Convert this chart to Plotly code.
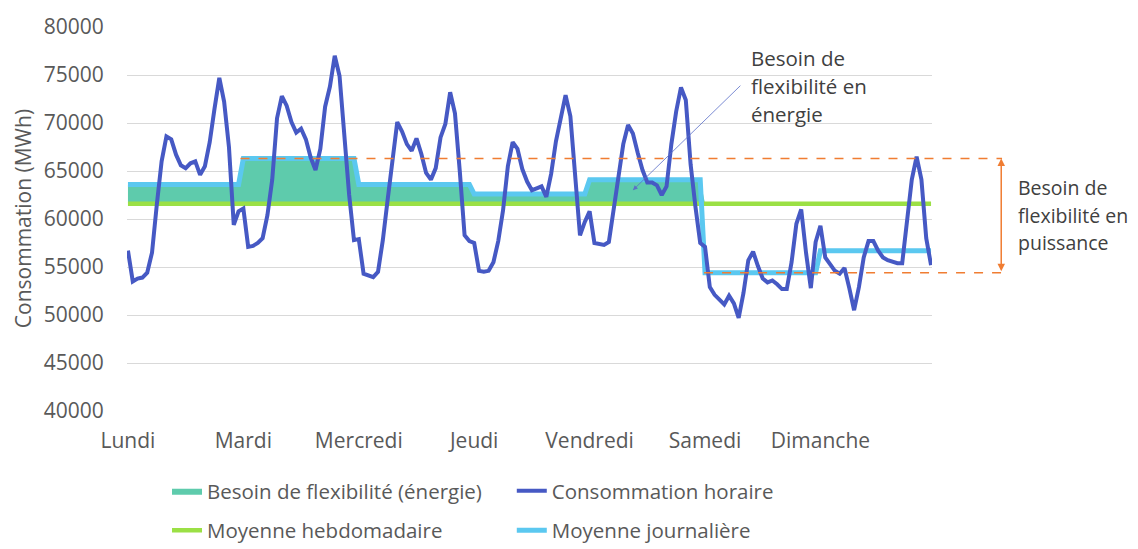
import plotly.graph_objects as go

# ---------------- data ----------------
days = ["Lundi", "Mardi", "Mercredi", "Jeudi", "Vendredi", "Samedi", "Dimanche"]

conso_lundi = [56700, 53500, 53800, 53900, 54400, 56500, 61500, 66000, 68600, 68300, 66700, 65600,
               65300, 65800, 66000, 64600, 65500, 68000, 71500, 74700, 72200, 67500, 59400, 60800]
conso_mardi = [61100, 57100, 57200, 57500, 58000, 60400, 64100, 70500, 72800, 71800, 70100, 69000,
               69400, 68300, 66400, 65100, 67300, 71700, 73800, 77000, 74900, 68900, 62500, 57800]
conso_mercredi = [57900, 54300, 54100, 53950, 54500, 57800, 62000, 66000, 70100, 69100, 67800, 67100,
                  68400, 66800, 64800, 64100, 65300, 68500, 69900, 73200, 71000, 65000, 58300, 57700]
conso_jeudi = [57500, 54600, 54500, 54600, 55500, 57700, 60900, 65500, 68000, 67300, 65200, 63900,
               63000, 63200, 63400, 62300, 64700, 68100, 70500, 72900, 70700, 64300, 58300, 59700]
conso_vendredi = [60800, 57500, 57400, 57300, 57600, 61100, 64800, 67800, 69800, 68900, 66900, 65100,
                  63800, 63800, 63500, 62500, 63400, 67800, 71200, 73700, 72400, 65700, 61300, 57500]
conso_samedi = [57100, 52900, 52100, 51600, 51100, 52000, 51200, 49700, 52300, 55700, 56600, 55100,
                53800, 53400, 53600, 53200, 52700, 52700, 55500, 59500, 61000, 56500, 52800, 57600]
conso_dimanche = [59300, 56000, 55300, 54600, 54300, 54900, 52800, 50500, 52900, 56000, 57700, 57700,
                  56700, 56000, 55700, 55500, 55400, 55400, 59600, 64100, 66500, 64100, 58000, 55200]

daily_mean = [63600, 66300, 63600, 62600, 64100, 54400, 56700]
weekly_mean = 61600
y_ticks = [40000, 45000, 50000, 55000, 60000, 65000, 70000, 75000, 80000]

note_energie = ["Besoin de", "flexibilité en", "énergie"]
note_puissance = ["Besoin de", "flexibilité en", "puissance"]

# ---------------- derived series ----------------
hourly = (conso_lundi + conso_mardi + conso_mercredi + conso_jeudi
          + conso_vendredi + conso_samedi + conso_dimanche)
hours = list(range(len(hourly)))
hpd = len(conso_lundi)
daily_line = [daily_mean[h // hpd] for h in hours]
weekly_line = [weekly_mean for _ in hours]
fill_top = [max(d, weekly_mean) for d in daily_line]
day_ticks = [i * hpd for i in range(len(days))]

XR = [-0.2, 167.2]
YR = [40000, 80000]

C_CONSO = "#4659C4"
C_DAILY = "#5BC8F0"
C_WEEK = "#9BE045"
C_FILL = "#5ECBAC"
C_ORANGE = "#F07D32"
TXT = "#404040"
AX = "#595959"

fig = go.Figure()

fig.add_trace(go.Scatter(x=hours, y=weekly_line, mode="lines", line=dict(width=0),
                         showlegend=False, hoverinfo="skip"))
fig.add_trace(go.Scatter(x=hours, y=fill_top, mode="lines", fill="tonexty", fillcolor=C_FILL,
                         line=dict(width=0, color=C_FILL), name="Besoin de flexibilité (énergie)",
                         legend="legend", legendgroup="g1", legendrank=1))
fig.add_trace(go.Scatter(x=hours, y=weekly_line, mode="lines", line=dict(color=C_WEEK, width=4.5),
                         name="Moyenne hebdomadaire", legend="legend", legendgroup="g2", legendrank=2))
fig.add_trace(go.Scatter(x=hours, y=daily_line, mode="lines", line=dict(color=C_DAILY, width=5),
                         name="Moyenne journalière", legend="legend2", legendgroup="g4", legendrank=2))
fig.add_trace(go.Scatter(x=hours, y=hourly, mode="lines", line=dict(color=C_CONSO, width=4),
                         name="Consommation horaire", legend="legend2", legendgroup="g3", legendrank=1))


def px_x(h):
    return (h - XR[0]) / (XR[1] - XR[0])


def py(v):
    return (v - YR[0]) / (YR[1] - YR[0])


vmax = max(daily_mean)
vmin = min(daily_mean)
dmax = daily_mean.index(vmax)
dmin = daily_mean.index(vmin)
x_end = 1.087
x_arrow = 1.086

fig.add_shape(type="line", xref="paper", yref="paper", x0=px_x(dmax * hpd - 0.6), x1=x_end,
              y0=py(vmax), y1=py(vmax), line=dict(color=C_ORANGE, width=1.5, dash="dash"))
fig.add_shape(type="line", xref="paper", yref="paper", x0=px_x(dmin * hpd - 0.2), x1=x_end,
              y0=py(vmin), y1=py(vmin), line=dict(color=C_ORANGE, width=1.5, dash="dash"))

fig.add_annotation(xref="paper", x=x_arrow, yref="y", y=vmax, axref="pixel", ax=0,
                   ayref="y", ay=vmin, text="", showarrow=True, arrowhead=2, arrowside="end+start",
                   arrowsize=1, arrowwidth=1.5, arrowcolor=C_ORANGE)

for line_txt, yy in zip(note_puissance, [0.581, 0.510, 0.438]):
    fig.add_annotation(xref="paper", yref="paper", x=1.104, y=yy, xanchor="left", yanchor="middle",
                       align="left", showarrow=False, text=line_txt,
                       font=dict(family="Open Sans", size=19.5, color=TXT))

fig.add_annotation(xref="x", yref="y", x=105, y=63000, ax=109, ay=-106, text="", showarrow=True,
                   arrowhead=2, arrowsize=1.2, arrowwidth=0.8, arrowcolor="#5B6FC8")
for line_txt, yy in zip(note_energie, [0.919, 0.846, 0.773]):
    fig.add_annotation(xref="paper", yref="paper", x=0.773, y=yy, xanchor="left", yanchor="middle",
                       align="left", showarrow=False, text=line_txt,
                       font=dict(family="Open Sans", size=20.5, color=TXT))

fig.add_annotation(xref="paper", yref="paper", x=-0.129, y=0.5, xanchor="center", yanchor="middle",
                   textangle=-90, showarrow=False, text="Consommation (MWh)",
                   font=dict(family="Open Sans", size=21, color=AX))

fig.update_layout(
    width=1130, height=541,
    margin=dict(l=119, r=206, t=19, b=138, autoexpand=False),
    plot_bgcolor="white", paper_bgcolor="white",
    font=dict(family="Open Sans", color=AX),
    xaxis=dict(range=XR, tickvals=day_ticks, ticktext=days, showgrid=False, zeroline=False,
               showline=False, ticks="outside", ticklen=11, tickcolor="rgba(0,0,0,0)",
               tickfont=dict(size=21, color=AX), automargin=False),
    yaxis=dict(range=YR, tickvals=y_ticks, showgrid=True, gridcolor="#D9D9D9", gridwidth=1,
               zeroline=False, ticks="outside", ticklen=18, tickcolor="rgba(0,0,0,0)",
               tickformat="d", tickfont=dict(size=21, color=AX), automargin=False),
    legend=dict(x=0.0497, xref="paper", y=0.1445, yref="container", xanchor="left", yanchor="top",
                orientation="v", tracegroupgap=10, bgcolor="rgba(0,0,0,0)",
                font=dict(family="Open Sans", size=20.5, color=AX)),
    legend2=dict(x=0.478, xref="paper", y=0.1445, yref="container", xanchor="left", yanchor="top",
                 orientation="v", tracegroupgap=10, bgcolor="rgba(0,0,0,0)",
                 font=dict(family="Open Sans", size=20.5, color=AX)),
    showlegend=True,
)

fig.write_html("out.html")
